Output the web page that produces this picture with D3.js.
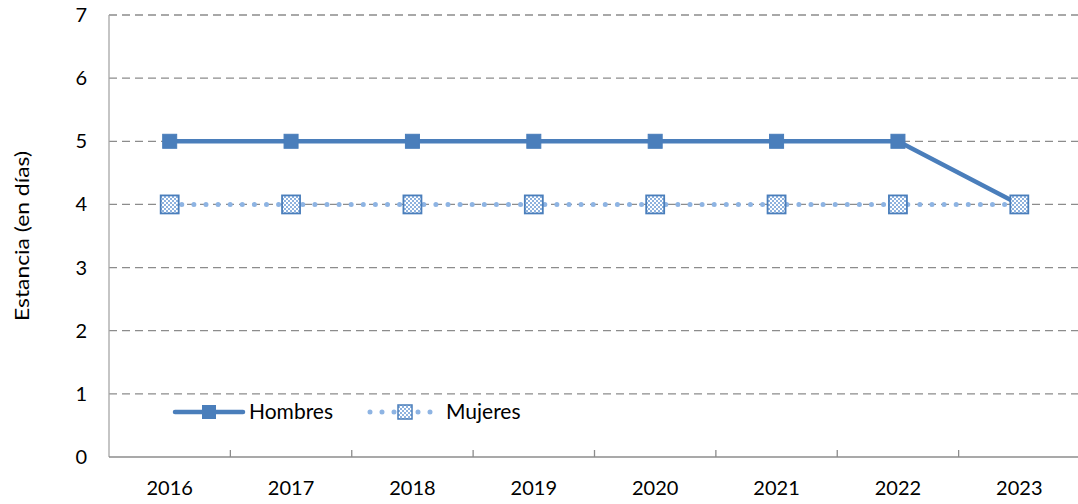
<!DOCTYPE html>
<html>
<head>
<meta charset="utf-8">
<script src="https://cdn.jsdelivr.net/npm/d3@7"></script>
<style>
  body { margin: 0; background: #fff; }
  text { font-family: Lato, "Open Sans", sans-serif; fill: #000; }
</style>
</head>
<body>
<svg id="chart"></svg>
<script>
// chart data
const years = ["2016", "2017", "2018", "2019", "2020", "2021", "2022", "2023"];
const hombres = [5, 5, 5, 5, 5, 5, 5, 4];
const mujeres = [4, 4, 4, 4, 4, 4, 4, 4];
const yTicks = [0, 1, 2, 3, 4, 5, 6, 7];

const width = 1078, height = 504;
const margin = { top: 15, right: -2, bottom: 47, left: 109 };

const svg = d3.select("#chart")
    .attr("width", width)
    .attr("height", height);

// pattern for Mujeres markers
const defs = svg.append("defs");
const pat = defs.append("pattern")
    .attr("id", "checks")
    .attr("width", 4).attr("height", 4)
    .attr("patternUnits", "userSpaceOnUse");
pat.append("rect").attr("width", 4).attr("height", 4).attr("fill", "#ffffff");
pat.append("rect").attr("width", 2).attr("height", 2).attr("fill", "#8eb2de");
pat.append("rect").attr("x", 2).attr("y", 2).attr("width", 2).attr("height", 2).attr("fill", "#8eb2de");

const x = d3.scaleBand()
    .domain(years)
    .range([margin.left, width - margin.right]);

const y = d3.scaleLinear()
    .domain([0, 7])
    .range([height - margin.bottom, margin.top]);

// Horizontal dashed gridlines
svg.append("g")
    .selectAll("line")
    .data(yTicks.slice(1))
    .enter()
    .append("line")
    .attr("x1", margin.left)
    .attr("x2", width - margin.right)
    .attr("y1", d => y(d))
    .attr("y2", d => y(d))
    .attr("stroke", "#8c8c8c")
    .attr("stroke-width", 1.3)
    .attr("stroke-dasharray", "8,5");

// Y axis
svg.append("line")
    .attr("x1", margin.left).attr("x2", margin.left)
    .attr("y1", y(7)).attr("y2", y(0))
    .attr("stroke", "#a6a6a6").attr("stroke-width", 1.3);

svg.append("g")
    .selectAll("text")
    .data(yTicks)
    .enter()
    .append("text")
    .attr("x", margin.left - 22)
    .attr("y", d => y(d))
    .attr("dy", "0.35em")
    .attr("text-anchor", "end")
    .style("font-size", "20px")
    .text(d => d);

// X axis
svg.append("line")
    .attr("x1", margin.left).attr("x2", width)
    .attr("y1", y(0)).attr("y2", y(0))
    .attr("stroke", "#8c8c8c").attr("stroke-width", 1.5);

svg.append("g")
    .selectAll("line")
    .data(years.slice(1))
    .enter()
    .append("line")
    .attr("x1", d => x(d)).attr("x2", d => x(d))
    .attr("y1", y(0) - 7).attr("y2", y(0))
    .attr("stroke", "#8c8c8c").attr("stroke-width", 1.3);

svg.append("g")
    .selectAll("text")
    .data(years)
    .enter()
    .append("text")
    .attr("x", d => x(d) + x.bandwidth() / 2)
    .attr("y", y(0) + 38)
    .attr("text-anchor", "middle")
    .style("font-size", "20px")
    .text(d => d);

// axis title
svg.append("text")
    .attr("transform", `translate(29, ${y(3.5)}) rotate(-90)`)
    .attr("text-anchor", "middle")
    .style("font-size", "20px")
    .attr("textLength", 170)
    .attr("lengthAdjust", "spacingAndGlyphs")
    .text("Estancia (en días)");

const cx = d => x(d) + x.bandwidth() / 2;

// Hombres line
const lineH = d3.line()
    .x((d, i) => cx(years[i]))
    .y(d => y(d));

svg.append("path")
    .datum(hombres)
    .attr("d", lineH)
    .attr("fill", "none")
    .attr("stroke", "#4a7ebb")
    .attr("stroke-width", 4.5);

svg.append("g")
    .selectAll("rect")
    .data(hombres)
    .enter()
    .append("rect")
    .attr("x", (d, i) => cx(years[i]) - 7)
    .attr("y", d => y(d) - 7)
    .attr("width", 14).attr("height", 14)
    .attr("fill", "#4a7ebb")
    .attr("stroke", "#4a7ebb");

// Mujeres line (dotted)
svg.append("path")
    .datum(mujeres)
    .attr("d", lineH)
    .attr("fill", "none")
    .attr("stroke", "#8eb4e3")
    .attr("stroke-width", 5)
    .attr("stroke-linecap", "round")
    .attr("stroke-dasharray", "0,12.1");

svg.append("g")
    .selectAll("rect")
    .data(mujeres)
    .enter()
    .append("rect")
    .attr("x", (d, i) => cx(years[i]) - 9)
    .attr("y", d => y(d) - 9)
    .attr("width", 18).attr("height", 18)
    .attr("fill", "url(#checks)")
    .attr("stroke", "#4a7ebb")
    .attr("stroke-width", 1.8);

// Legend
const ly = 412;
const legend = svg.append("g");
legend.append("line")
    .attr("x1", 175).attr("x2", 243)
    .attr("y1", ly).attr("y2", ly)
    .attr("stroke", "#4a7ebb").attr("stroke-width", 4.5)
    .attr("stroke-linecap", "round");
legend.append("rect")
    .attr("x", 202).attr("y", ly - 7)
    .attr("width", 14).attr("height", 14)
    .attr("fill", "#4a7ebb");
legend.append("text")
    .attr("x", 249).attr("y", ly).attr("dy", "0.35em")
    .style("font-size", "21px")
    .text("Hombres");

legend.append("line")
    .attr("x1", 370).attr("x2", 436)
    .attr("y1", ly).attr("y2", ly)
    .attr("stroke", "#8eb4e3").attr("stroke-width", 5)
    .attr("stroke-linecap", "round")
    .attr("stroke-dasharray", "0,12");
legend.append("rect")
    .attr("x", 398).attr("y", ly - 7)
    .attr("width", 14).attr("height", 14)
    .attr("fill", "url(#checks)")
    .attr("stroke", "#4a7ebb").attr("stroke-width", 1.5);
legend.append("text")
    .attr("x", 446).attr("y", ly).attr("dy", "0.35em")
    .style("font-size", "21px")
    .text("Mujeres");
</script>
</body>
</html>
